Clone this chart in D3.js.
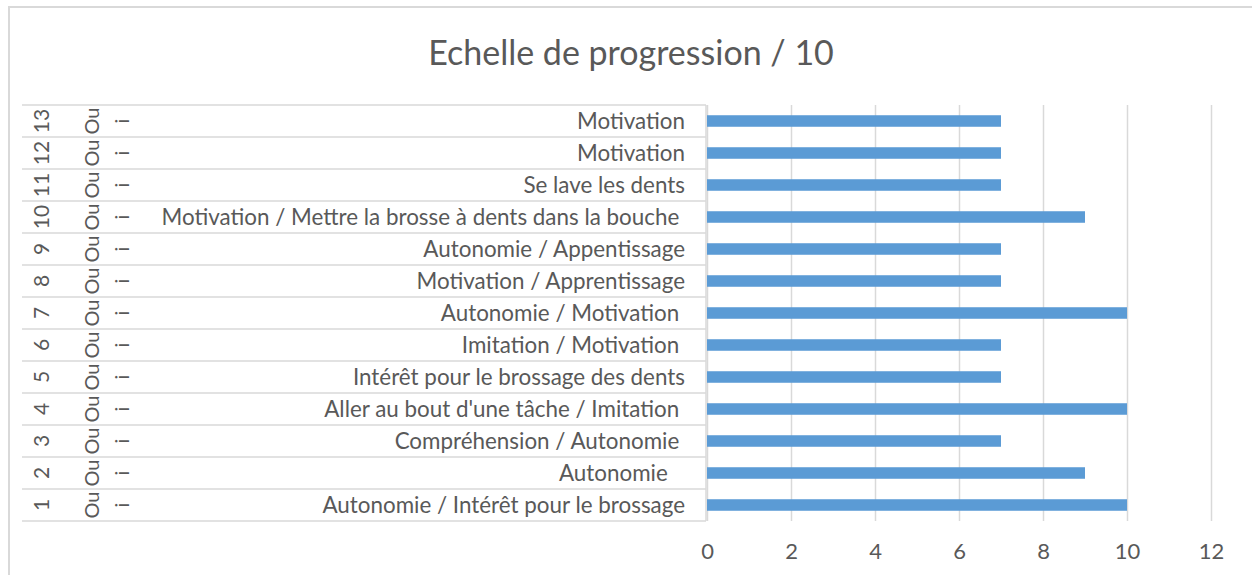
<!DOCTYPE html>
<html lang="fr">
<head>
<meta charset="utf-8">
<script src="https://cdn.jsdelivr.net/npm/d3@7"></script>
<style>
  html, body { margin: 0; padding: 0; background: #fff; }
  svg { display: block; }
  text { font-family: Lato, "Open Sans", sans-serif; fill: #595959; }
  .lbl { white-space: pre; }
</style>
</head>
<body>
<svg id="chart" width="1252" height="575"></svg>
<script>
// Séances (niveau 1 de l'axe des catégories), de bas en haut
const seances = ["1","2","3","4","5","6","7","8","9","10","11","12","13"];
// Niveau 2 : réponse
const reponses = ["Oui","Oui","Oui","Oui","Oui","Oui","Oui","Oui","Oui","Oui","Oui","Oui","Oui"];
// Niveau 3 : objectifs travaillés
const objectifs = [
  "Autonomie / Intérêt pour le brossage",
  "Autonomie   ",
  "Compréhension / Autonomie ",
  "Aller au bout d'une tâche / Imitation ",
  "Intérêt pour le brossage des dents",
  "Imitation / Motivation ",
  "Autonomie / Motivation ",
  "Motivation / Apprentissage",
  "Autonomie / Appentissage",
  "Motivation / Mettre la brosse à dents dans la bouche ",
  "Se lave les dents",
  "Motivation",
  "Motivation"
];
// Note de progression sur 10
const notes = [10, 9, 7, 10, 7, 7, 10, 7, 7, 9, 7, 7, 7];
const xTicks = [0, 2, 4, 6, 8, 10, 12];
const titre = "Echelle de progression / 10";

const svg = d3.select("#chart");
const grid = "#D9D9D9";
const fs = 22;

// Cadre de la zone de graphique
svg.append("rect")
  .attr("x", 9).attr("y", 7)
  .attr("width", 1300).attr("height", 600)
  .attr("fill", "#fff").attr("stroke", grid).attr("stroke-width", 2);

// Titre
svg.append("text")
  .attr("x", 631).attr("y", 51)
  .attr("text-anchor", "middle").attr("dominant-baseline", "central")
  .style("font-size", "34px")
  .text(titre);

const plot = { left: 707, right: 1211, top: 105, bottom: 521 };
const catLeft = 22;

const x = d3.scaleLinear().domain([0, 12]).range([plot.left, plot.right]);
const y = d3.scaleBand()
  .domain(seances.slice().reverse())
  .range([plot.top, plot.bottom])
  .padding(0);

// Quadrillage vertical + étiquettes de l'axe des valeurs
const xAxis = d3.axisBottom(x)
  .tickValues(xTicks)
  .tickFormat(d3.format("d"))
  .tickSizeInner(-(plot.bottom - plot.top))
  .tickSizeOuter(0)
  .tickPadding(22);

const gx = svg.append("g")
  .attr("transform", `translate(0,${plot.bottom})`)
  .call(xAxis);
gx.select(".domain").remove();
gx.selectAll(".tick line").attr("stroke", grid).attr("stroke-width", 1.5);
gx.selectAll(".tick text")
  .attr("fill", "#595959")
  .style("font-size", fs + "px")
  .style("font-family", "Lato, 'Open Sans', sans-serif");

// Cases de l'axe des catégories à plusieurs niveaux
const bounds = y.domain().map(d => y(d)).concat([plot.bottom]);
svg.append("g").selectAll("line")
  .data(bounds)
  .join("line")
  .attr("x1", catLeft).attr("x2", plot.left - 1)
  .attr("y1", d => d).attr("y2", d => d)
  .attr("stroke", grid).attr("stroke-width", 1.5);
svg.append("line")
  .attr("x1", plot.left - 1).attr("x2", plot.left - 1)
  .attr("y1", plot.top).attr("y2", plot.bottom)
  .attr("stroke", grid).attr("stroke-width", 1.5);

const rows = seances.map((s, i) => ({ s, rep: reponses[i], obj: objectifs[i], v: notes[i] }));
const cy = d => y(d.s) + y.bandwidth() / 2;

// Niveau 1 : numéro de séance (texte pivoté)
svg.append("g").selectAll("text")
  .data(rows)
  .join("text")
  .attr("transform", d => `translate(40,${cy(d)}) rotate(-90)`)
  .attr("text-anchor", "middle").attr("dominant-baseline", "central")
  .style("font-size", "21px")
  .text(d => d.s);

// Niveau 2 : réponse, pivotée et renvoyée à la ligne (« Ou » / « i »)
const rep = svg.append("g").selectAll("text")
  .data(rows)
  .join("text")
  .attr("transform", d => `translate(92,${cy(d)}) rotate(-90)`)
  .attr("text-anchor", "middle")
  .style("font-size", "20px");
rep.append("tspan")
  .attr("x", 0).attr("dy", "0.35em")
  .text(d => d.rep.slice(0, 2));
rep.append("tspan")
  .attr("x", 0).attr("dy", "1.5em")
  .text(d => d.rep.slice(2));

// Niveau 3 : objectifs
svg.append("g").selectAll("text")
  .data(rows)
  .join("text")
  .attr("class", "lbl")
  .attr("x", 685).attr("y", d => cy(d) - 1)
  .attr("text-anchor", "end").attr("dominant-baseline", "central")
  .style("font-size", "22.4px")
  .text(d => d.obj);

// Barres
const barH = y.bandwidth() * 0.36;
svg.append("g").selectAll("rect")
  .data(rows)
  .join("rect")
  .attr("x", x(0))
  .attr("y", d => cy(d) - barH / 2)
  .attr("width", d => x(d.v) - x(0))
  .attr("height", barH)
  .attr("fill", "#5B9BD5");
</script>
</body>
</html>
